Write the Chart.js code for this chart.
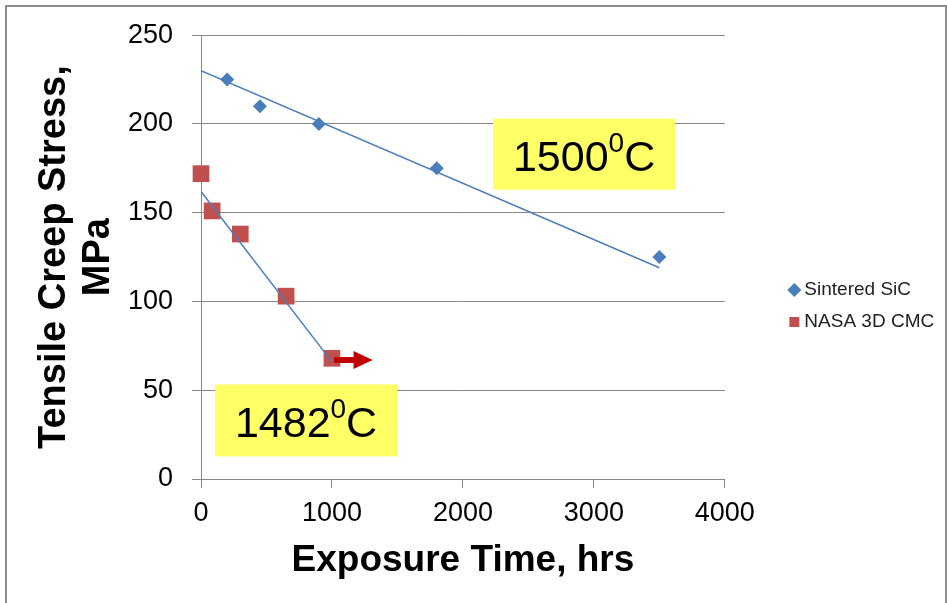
<!DOCTYPE html>
<html>
<head>
<meta charset="utf-8">
<title>Tensile Creep Stress vs Exposure Time</title>
<script src="https://cdn.jsdelivr.net/npm/chart.js@4.4.1/dist/chart.umd.min.js"></script>
<style>
  html, body { margin: 0; padding: 0; background: #fff; }
  #wrap { position: relative; width: 947px; height: 603px; overflow: hidden; }
  #frame { position: absolute; left: 5px; top: 5px; width: 938px; height: 640px; border: 2px solid #8c8c8c; }
  canvas { position: absolute; left: 0; top: 0; }
</style>
</head>
<body>
<div id="wrap">
  <div id="frame"></div>
  <canvas id="creepChart" width="947" height="603"></canvas>
</div>
<script>
// =========================
// DATA
// =========================
const seriesNames = ["Sintered SiC", "NASA 3D CMC"];

const sicHours = [200, 450, 900, 1800, 3500];
const sicStress = [225, 210, 200, 175, 125];

const cmcHours = [0, 85, 300, 650, 1000];
const cmcStress = [172, 151, 138, 103, 68];

// trendline end points
const sicTrendHours = [0, 3500];
const sicTrendStress = [230, 119];
const cmcTrendHours = [0, 1000];
const cmcTrendStress = [162, 66];

// run-out arrow on the last CMC point
const arrowHours = [1000, 1310];
const arrowStress = [67, 67];

const xTicks = [0, 1000, 2000, 3000, 4000];
const yTicks = [0, 50, 100, 150, 200, 250];

const tempLabels = ["1500", "1482"];

const FONT = "'Liberation Sans', Arial, sans-serif";
const BLUE = "#4a7ebb";
const RED = "#c0504d";
const GRID = "#878787";

function pts(xs, ys) {
  return xs.map((x, i) => ({ x, y: ys[i] }));
}

// =========================
// TEMPERATURE BOXES + ARROW
// =========================
const boxes = [
  { label: tempLabels[0], x: 2925, y: 183, w: 182, h: 71 },
  { label: tempLabels[1], x: 802, y: 33, w: 182, h: 72 }
];

const overlayPlugin = {
  id: "overlay",
  // let the legend use the room up to the canvas edge so its text is not clipped
  afterLayout(chart) {
    const lg = chart.legend;
    if (lg) {
      lg.right = chart.width;
      lg.width = lg.right - lg.left;
    }
  },
  afterDatasetsDraw(chart) {
    const { ctx, scales: { x, y } } = chart;
    ctx.save();

    // arrow
    const ax0 = x.getPixelForValue(arrowHours[0]) + 2;
    const ax1 = x.getPixelForValue(arrowHours[1]);
    const ay = y.getPixelForValue(arrowStress[0]);
    ctx.fillStyle = "#c00000";
    ctx.fillRect(ax0, ay - 3, ax1 - ax0 - 18, 6);
    ctx.beginPath();
    ctx.moveTo(ax1 - 19, ay - 9);
    ctx.lineTo(ax1, ay);
    ctx.lineTo(ax1 - 19, ay + 9);
    ctx.closePath();
    ctx.fill();

    // yellow labels
    boxes.forEach((b) => {
      const cx = x.getPixelForValue(b.x);
      const cy = y.getPixelForValue(b.y);
      ctx.fillStyle = "#ffff66";
      ctx.fillRect(cx - b.w / 2, cy - b.h / 2, b.w, b.h);

      const big = "43px " + FONT;
      const small = "28px " + FONT;
      ctx.font = big;
      const wNum = ctx.measureText(b.label).width;
      const wC = ctx.measureText("C").width;
      ctx.font = small;
      const wSup = ctx.measureText("0").width;
      let tx = cx - (wNum + wSup + wC) / 2;
      const base = cy + 16.5;

      ctx.fillStyle = "#000";
      ctx.textBaseline = "alphabetic";
      ctx.textAlign = "left";
      ctx.font = big;
      ctx.fillText(b.label, tx, base);
      tx += wNum;
      ctx.font = small;
      ctx.fillText("0", tx, base - 19);
      tx += wSup;
      ctx.font = big;
      ctx.fillText("C", tx, base);
    });

    ctx.restore();
  }
};

// =========================
// CHART
// =========================
const ctx = document.getElementById("creepChart").getContext("2d");

new Chart(ctx, {
  type: "scatter",
  data: {
    datasets: [
      {
        label: "trend SiC",
        type: "line",
        data: pts(sicTrendHours, sicTrendStress),
        borderColor: BLUE,
        borderWidth: 1.5,
        pointRadius: 0,
        order: 0
      },
      {
        label: "trend CMC",
        type: "line",
        data: pts(cmcTrendHours, cmcTrendStress),
        borderColor: BLUE,
        borderWidth: 1.5,
        pointRadius: 0,
        order: 0
      },
      {
        label: seriesNames[0],
        data: pts(sicHours, sicStress),
        pointStyle: "rectRot",
        pointRadius: 7,
        backgroundColor: BLUE,
        borderColor: BLUE,
        borderWidth: 0,
        clip: false,
        order: 1
      },
      {
        label: seriesNames[1],
        data: pts(cmcHours, cmcStress),
        pointStyle: "rect",
        pointRadius: 11.8,
        backgroundColor: RED,
        borderColor: RED,
        borderWidth: 0,
        clip: false,
        order: 1
      }
    ]
  },
  options: {
    responsive: false,
    animation: false,
    layout: { padding: { top: 33, bottom: 24, left: 0, right: 10 } },
    plugins: {
      tooltip: { enabled: false },
      legend: {
        position: "right",
        labels: {
          usePointStyle: true,
          boxWidth: 1,
          boxHeight: 10,
          padding: 13,
          color: "#222",
          font: { family: FONT, size: 19 },
          filter: (item) => seriesNames.includes(item.text)
        }
      }
    },
    scales: {
      x: {
        type: "linear",
        min: xTicks[0],
        max: xTicks[xTicks.length - 1],
        afterBuildTicks: (s) => { s.ticks = xTicks.map((v) => ({ value: v })); },
        afterFit: (s) => { s.height = 100; },
        grid: { drawOnChartArea: false, drawTicks: true, tickLength: 9, color: GRID, lineWidth: 1 },
        border: { color: GRID, width: 1 },
        ticks: {
          color: "#000",
          padding: 9,
          maxRotation: 0,
          font: { family: FONT, size: 27 },
          callback: (v) => String(v)
        },
        title: {
          display: true,
          text: "Exposure Time, hrs",
          color: "#000",
          padding: { top: 0, bottom: 0 },
          font: { family: FONT, size: 37, weight: "bold", lineHeight: 1 }
        }
      },
      y: {
        type: "linear",
        min: yTicks[0],
        max: yTicks[yTicks.length - 1],
        afterBuildTicks: (s) => { s.ticks = yTicks.map((v) => ({ value: v })); },
        afterFit: (s) => { s.width = 201; },
        grid: { drawTicks: true, tickLength: 9, color: GRID, lineWidth: 1 },
        border: { color: GRID, width: 1 },
        ticks: { color: "#000", padding: 19, font: { family: FONT, size: 27 } },
        title: {
          display: true,
          text: ["Tensile Creep Stress,", "MPa"],
          color: "#000",
          padding: { top: 32, bottom: 0 },
          font: { family: FONT, size: 38, weight: "bold", lineHeight: 1.16 }
        }
      },
      // empty spacer between plot and legend
      gap: {
        type: "linear",
        position: "right",
        display: true,
        grid: { display: false },
        border: { display: false },
        ticks: { display: false },
        afterFit: (s) => { s.width = 56; }
      }
    }
  },
  plugins: [overlayPlugin]
});
</script>
</body>
</html>
